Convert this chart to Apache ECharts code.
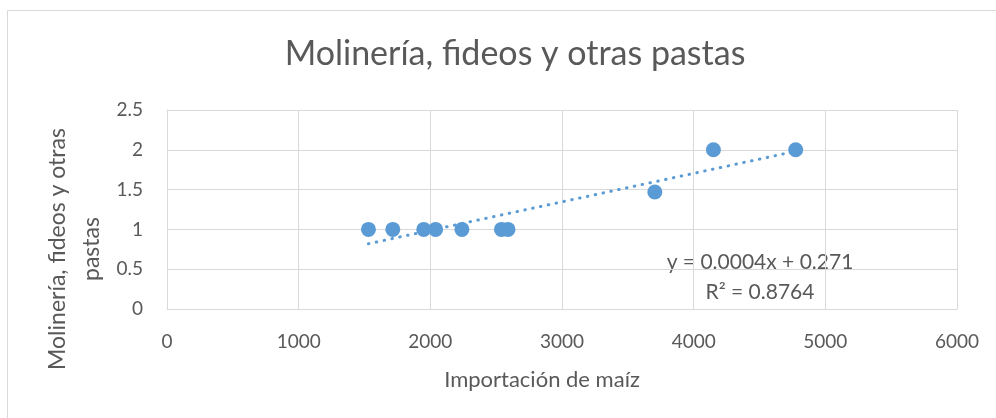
<!DOCTYPE html>
<html>
<head>
<meta charset="utf-8">
<script src="https://cdn.jsdelivr.net/npm/echarts@6/dist/echarts.min.js"></script>
<style>
  html, body { margin: 0; padding: 0; background: #fff; }
  #chart { width: 996px; height: 418px; }
</style>
</head>
<body>
<div id="chart"></div>
<script>
// importación de maíz (x) vs. molinería, fideos y otras pastas (y)
const importacion = [1530, 1715, 1950, 2040, 2240, 2540, 2590, 3705, 4150, 4775]
const molineria = [1, 1, 1, 1, 1, 1, 1, 1.47, 2, 2]
const xTicks = [0, 1000, 2000, 3000, 4000, 5000, 6000]
const yTicks = [0, 0.5, 1, 1.5, 2, 2.5]
const ecuacion = 'y = 0.0004x + 0.271'
const r2 = 'R² = 0.8764'

const font = 'Lato, "Open Sans", sans-serif'
const textColor = '#595959'
const blue = '#5b9bd5'

// linear trend (least squares) over the points, drawn from min x to max x
const n = importacion.length
const mx = importacion.reduce((a, b) => a + b, 0) / n
const my = molineria.reduce((a, b) => a + b, 0) / n
let sxy = 0, sxx = 0
importacion.forEach((x, i) => {
  sxy += (x - mx) * (molineria[i] - my)
  sxx += (x - mx) * (x - mx)
})
const slope = sxy / sxx
const intercept = my - slope * mx
const xMin = Math.min(...importacion)
const xMax = Math.max(...importacion)
const trend = [[xMin, intercept + slope * xMin], [xMax, intercept + slope * xMax]]

const chart = echarts.init(document.getElementById('chart'))
chart.setOption({
  animation: false,
  textStyle: { fontFamily: font },
  title: {
    text: 'Molinería, fideos y otras pastas',
    left: 510,
    top: 32,
    textAlign: 'center',
    textStyle: { fontFamily: font, fontSize: 34, fontWeight: 'normal', color: textColor }
  },
  graphic: [
    {
      type: 'rect',
      shape: { x: 7.5, y: 10.5, width: 1020, height: 430 },
      style: { fill: 'none', stroke: '#d9d9d9', lineWidth: 1 },
      silent: true
    },
    {
      type: 'text',
      x: 58, y: 249, rotation: Math.PI / 2,
      style: {
        text: 'Molinería, fideos y otras',
        fill: textColor, font: '23px ' + font,
        align: 'center', verticalAlign: 'middle'
      }
    },
    {
      type: 'text',
      x: 92, y: 249, rotation: Math.PI / 2,
      style: {
        text: 'pastas',
        fill: textColor, font: '23px ' + font,
        align: 'center', verticalAlign: 'middle'
      }
    },
    {
      type: 'text',
      x: 542, y: 380,
      style: {
        text: 'Importación de maíz',
        fill: textColor, font: '22px ' + font,
        align: 'center', verticalAlign: 'middle'
      }
    },
    {
      type: 'text',
      x: 760, y: 262,
      style: {
        text: ecuacion,
        fill: textColor, font: '21px ' + font,
        align: 'center', verticalAlign: 'middle'
      }
    },
    {
      type: 'text',
      x: 760, y: 292,
      style: {
        text: r2,
        fill: textColor, font: '21px ' + font,
        align: 'center', verticalAlign: 'middle'
      }
    }
  ],
  grid: { left: 167, right: 39, top: 110, bottom: 109 },
  xAxis: {
    type: 'value',
    min: xTicks[0],
    max: xTicks[xTicks.length - 1],
    interval: xTicks[1] - xTicks[0],
    axisLine: { show: true, lineStyle: { color: '#d9d9d9' } },
    axisTick: { show: false },
    axisLabel: { color: textColor, fontSize: 19, margin: 23, fontFamily: font, formatter: v => String(v) },
    splitLine: { show: true, lineStyle: { color: '#d9d9d9' } }
  },
  yAxis: {
    type: 'value',
    min: yTicks[0],
    max: yTicks[yTicks.length - 1],
    interval: yTicks[1] - yTicks[0],
    axisLine: { show: true, lineStyle: { color: '#d9d9d9' } },
    axisTick: { show: false },
    axisLabel: { color: textColor, fontSize: 19, margin: 24, fontFamily: font, formatter: v => String(v) },
    splitLine: { show: true, lineStyle: { color: '#d9d9d9' } }
  },
  series: [
    {
      name: 'Tendencia',
      type: 'line',
      data: trend,
      symbol: 'none',
      silent: true,
      z: 1,
      lineStyle: { color: blue, width: 3, type: [0.5, 7.5], cap: 'round' }
    },
    {
      name: 'Molinería',
      type: 'scatter',
      data: importacion.map((x, i) => [x, molineria[i]]),
      symbol: 'circle',
      symbolSize: 15,
      itemStyle: { color: blue, opacity: 1 },
      z: 2
    }
  ]
})
</script>
</body>
</html>
